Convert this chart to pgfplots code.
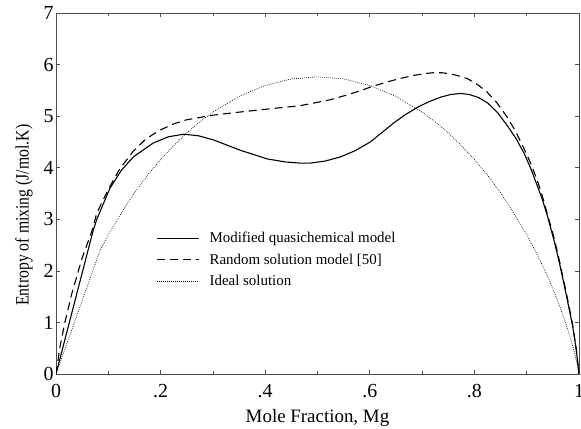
\documentclass[border=0pt]{standalone}
\usepackage{fontspec}
\setmainfont{Liberation Serif}
\usepackage{graphicx}
\usepackage{pgfplots}
\pgfplotsset{compat=1.18}
\begin{document}
\begin{tikzpicture}
\begin{axis}[
  scale only axis,
  width=523bp, height=361bp,
  xmin=0, xmax=1, ymin=0, ymax=7,
  xtick={0,0.2,0.4,0.6,0.8,1},
  xticklabels={0,.2,.4,.6,.8,1},
  minor x tick num=1,
  ytick={0,1,2,3,4,5,6,7},
  tick pos=both,
  tick align=inside,
  major tick length=4bp,
  minor tick length=3bp,
  axis line style={black!70, line width=0.8pt},
  every tick/.style={black!70, line width=0.7pt},
  /pgf/number format/assume math mode=true,
  tick label style={font=\fontsize{20}{23}\selectfont},
  yticklabel style={xshift=1bp},
  xticklabel style={yshift=-7bp},
  xlabel={Mole Fraction, Mg},
  ylabel={\scalebox{1}[1.2]{Entropy of mixing (J/mol.K)}},
  xlabel style={font=\fontsize{19}{23}\selectfont, at={(axis description cs:0.5,-0.1357)}, anchor=base},
  ylabel style={font=\fontsize{15.8}{19}\selectfont, at={(axis description cs:-0.0612,0.44)}, anchor=center},
  legend style={draw=none, fill=none, at={(axis cs:0.186,2.83)}, anchor=north west,
    font=\fontsize{15}{18}\selectfont, row sep=5.5bp,
    /tikz/every odd column/.style={inner sep=0pt}},
  legend cell align=left,
  legend image code/.code={\draw[#1] (0bp,0bp) -- (42bp,0bp);},
]
\addplot[black, line width=1.1pt] coordinates {
(0,0) (0.071,2.78) (0.078,3.0) (0.103,3.6) (0.125,3.95) (0.148,4.21) (0.186,4.48) (0.215,4.60) (0.244,4.65)
(0.272,4.62) (0.301,4.54) (0.352,4.34) (0.404,4.17) (0.440,4.11) (0.466,4.09) (0.487,4.09) (0.515,4.13)
(0.544,4.21) (0.572,4.33) (0.601,4.50) (0.623,4.68) (0.646,4.87) (0.668,5.03) (0.691,5.17) (0.713,5.28) (0.736,5.37)
(0.755,5.42) (0.774,5.44) (0.790,5.42) (0.808,5.36) (0.826,5.25) (0.845,5.06) (0.864,4.80) (0.880,4.56) (0.895,4.28)
(0.908,3.98) (0.921,3.63) (0.931,3.35) (0.940,3.05) (0.952,2.60) (0.962,2.18) (0.971,1.76) (0.980,1.32) (0.988,0.92) (0.995,0.45) (1,0)
};
\addlegendentry{\hspace{8bp}Modified quasichemical model}
\addplot[black, line width=1.1pt, dash pattern=on 8bp off 5bp] coordinates {
(0,0) (0.008,0.55) (0.017,1.0) (0.030,1.55) (0.050,2.25) (0.069,2.78) (0.078,3.12) (0.100,3.58) (0.122,3.98) (0.147,4.31) (0.172,4.56) (0.199,4.73)
(0.225,4.85) (0.250,4.93) (0.301,5.02) (0.352,5.08) (0.416,5.15) (0.465,5.20) (0.491,5.25) (0.525,5.32) (0.556,5.41)
(0.581,5.49) (0.606,5.58) (0.632,5.66) (0.658,5.73) (0.684,5.79) (0.709,5.83) (0.725,5.845) (0.740,5.84) (0.763,5.80) (0.786,5.73)
(0.805,5.62) (0.824,5.47) (0.843,5.26) (0.862,4.99) (0.878,4.72) (0.893,4.41) (0.907,4.10) (0.920,3.76) (0.930,3.45) (0.939,3.12)
(0.952,2.65) (0.962,2.22) (0.971,1.80) (0.980,1.36) (0.988,0.95) (0.995,0.47) (1,0)
};
\addlegendentry{\hspace{8bp}Random solution model [50]}
\addplot[black, line width=0.7pt, dash pattern=on 0.7bp off 1.3bp] coordinates {
(0,0) (0.084,2.39) (0.10,2.703) (0.125,3.125) (0.15,3.514) (0.175,3.858) (0.20,4.160) (0.225,4.428) (0.25,4.675)
(0.275,4.888) (0.30,5.079) (0.35,5.383) (0.40,5.595) (0.45,5.721) (0.50,5.763) (0.55,5.721) (0.60,5.595)
(0.65,5.383) (0.70,5.079) (0.725,4.888) (0.75,4.675) (0.775,4.428) (0.80,4.160) (0.825,3.858) (0.85,3.514) (0.875,3.125)
(0.90,2.703) (0.92,2.318) (0.94,1.895) (0.95,1.650) (0.96,1.400) (0.97,1.120) (0.98,0.815) (0.99,0.466) (0.995,0.262) (1,0)
};
\addlegendentry{\hspace{8bp}Ideal solution}
\end{axis}
\pgfresetboundingbox
\path (-56bp,-55bp) rectangle (525bp,374bp);
\end{tikzpicture}
\end{document}
